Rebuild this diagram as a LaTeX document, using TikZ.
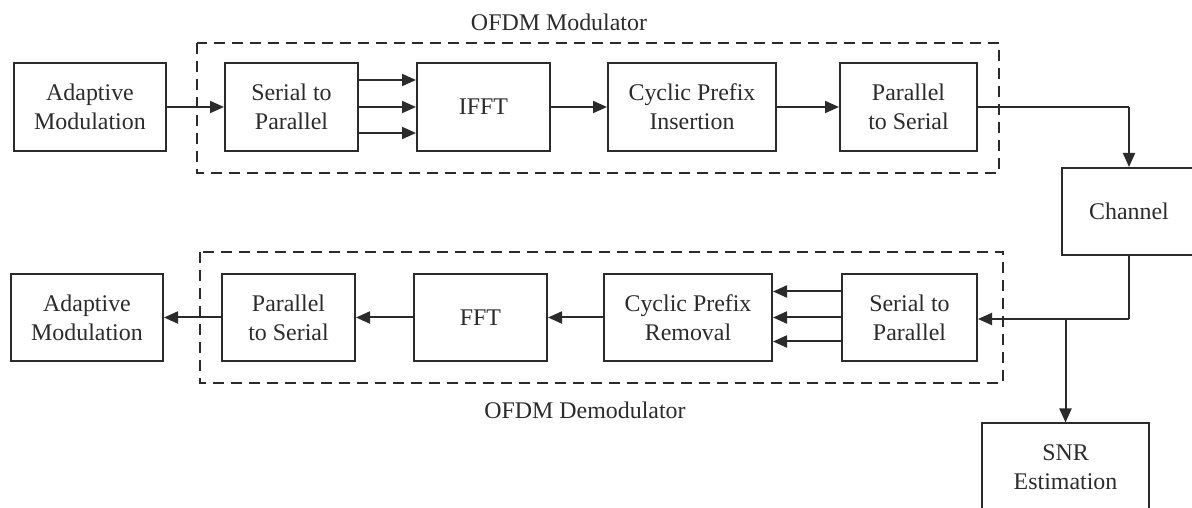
\documentclass[tikz,border=0pt]{standalone}
\usepackage{fontspec}
\setmainfont{Liberation Serif}
\usetikzlibrary{arrows.meta,calc}
\definecolor{ink}{HTML}{2B2B2B}
\tikzset{
  blk/.style={draw=ink, line width=2bp, minimum height=88bp, align=center, inner sep=0pt,
    font=\fontsize{24}{29}\selectfont, text=ink},
  arr/.style={draw=ink, line width=2bp, -{Triangle[length=14bp,width=12bp]}},
  thinln/.style={draw=ink, line width=1.2bp},
  dbox/.style={draw=ink, line width=2bp, dash pattern=on 11bp off 7bp},
  lbl/.style={font=\fontsize{24}{29}\selectfont, text=ink, inner sep=0pt}
}
\begin{document}
\begin{tikzpicture}[x=1bp,y=-1bp]
\clip (0,0) rectangle (1192,508);
\useasboundingbox (0,0) rectangle (1192,508);
% dashed groups
\draw[dbox] (197,43) rectangle (999,173);
\draw[dbox] (200,252) rectangle (1003,383);
\node[lbl] (modl) at (559,22) {OFDM Modulator};
\node[lbl] (demodl) at (585,410) {OFDM Demodulator};
% top row
\node[blk, minimum width=152bp] (am1) at (90,107) {Adaptive\\Modulation};
\node[blk, minimum width=133bp] (sp1) at (291.5,107) {Serial to\\Parallel};
\node[blk, minimum width=133bp] (ifft) at (483.5,107) {IFFT};
\node[blk, minimum width=168bp] (cpi) at (692,107) {Cyclic Prefix\\Insertion};
\node[blk, minimum width=137bp] (ps1) at (908.5,107) {Parallel\\to Serial};
% channel / snr
\node[blk, minimum width=134bp, minimum height=87bp] (chan) at (1129,211.5) {Channel};
\node[blk, minimum width=167bp, minimum height=87bp] (snr) at (1065.5,467) {SNR\\Estimation};
% bottom row
\node[blk, minimum width=152bp, minimum height=87bp] (am2) at (87,317.5) {Adaptive\\Modulation};
\node[blk, minimum width=133bp, minimum height=87bp] (ps2) at (288.5,317.5) {Parallel\\to Serial};
\node[blk, minimum width=133bp, minimum height=87bp] (fft) at (480.5,317.5) {FFT};
\node[blk, minimum width=168bp, minimum height=87bp] (cpr) at (688,317.5) {Cyclic Prefix\\Removal};
\node[blk, minimum width=135bp, minimum height=87bp] (sp2) at (909.5,317.5) {Serial to\\Parallel};
% top connectors
\draw[arr] (am1.east) -- (sp1.west);
\draw[arr] ([yshift=27bp]sp1.east) -- ([yshift=27bp]ifft.west);
\draw[arr] (sp1.east) -- (ifft.west);
\draw[arr] ([yshift=-26bp]sp1.east) -- ([yshift=-26bp]ifft.west);
\draw[arr] (ifft.east) -- (cpi.west);
\draw[arr] (cpi.east) -- (ps1.west);
\coordinate (tc) at (chan.north |- ps1.east);
\draw[thinln] (ps1.east) -- (tc);
\draw[arr] (tc) -- (chan.north);
% channel to receiver
\coordinate (bc) at (chan.south |- 0,319);
\coordinate (jn) at (snr.north |- bc);
\draw[thinln] (chan.south) -- (bc);
\draw[arr] (bc) -- (sp2.east |- bc);
\draw[arr] (jn) -- (snr.north);
% bottom connectors
\draw[arr] ([yshift=26bp]sp2.west) -- ([yshift=26bp]cpr.east);
\draw[arr] (sp2.west) -- (cpr.east);
\draw[arr] ([yshift=-24bp]sp2.west) -- ([yshift=-24bp]cpr.east);
\draw[arr] (cpr.west) -- (fft.east);
\draw[arr] (fft.west) -- (ps2.east);
\draw[arr] (ps2.west) -- (am2.east);
\end{tikzpicture}
\end{document}
